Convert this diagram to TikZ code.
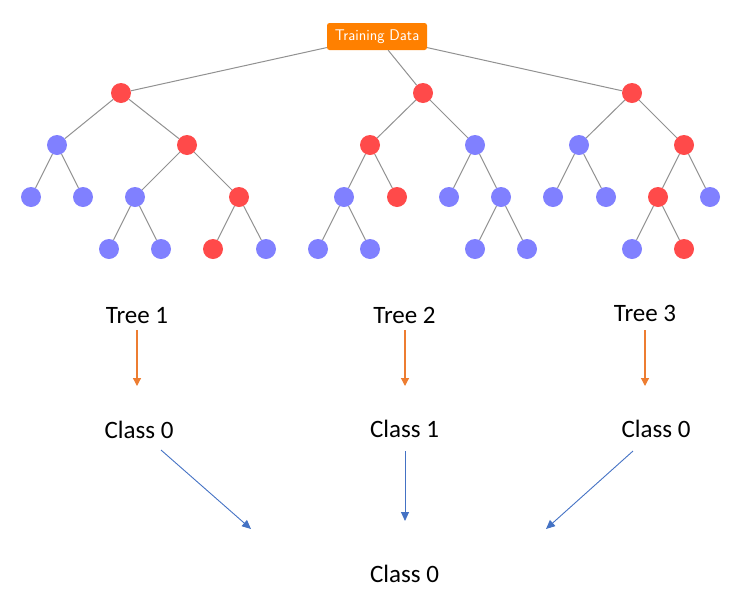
\documentclass[tikz,border=0pt]{standalone}
\usepackage{fontspec}
\newfontfamily\labelfont{Carlito}
\usetikzlibrary{arrows.meta}
\definecolor{leafred}{RGB}{255,74,74}
\definecolor{leafblue}{RGB}{128,128,255}
\definecolor{edgegray}{RGB}{145,145,145}
\definecolor{boxorange}{RGB}{255,128,0}
\definecolor{arroworange}{RGB}{237,125,49}
\definecolor{arrowblue}{RGB}{68,114,196}
\tikzset{
  rnode/.style={circle,fill=leafred,minimum size=20pt,inner sep=0pt},
  bnode/.style={circle,fill=leafblue,minimum size=20pt,inner sep=0pt},
  treeedge/.style={draw=edgegray,line width=1pt},
  databox/.style={rectangle,rounded corners=2.5pt,fill=boxorange,text=white,
    font=\sffamily\fontsize{15.5}{18}\selectfont,minimum width=100pt,minimum height=27pt,inner sep=0pt},
  lbl/.style={font=\labelfont\fontsize{25}{30}\selectfont,anchor=base,inner sep=0pt},
  votearrow/.style={draw=arroworange,line width=1.2pt,-{Triangle[length=8pt,width=8pt]}},
  classarrow/.style={draw=arrowblue,line width=0.9pt,-{Triangle[length=9pt,width=8pt]}}
}
\begin{document}
\begin{tikzpicture}[x=1pt,y=-1pt]
\useasboundingbox (0,0) rectangle (745,611);

% training data
\node[databox] (data) at (377,36.5) {Training Data};

% tree 1
\node[rnode] (a) at (121,93) {};
\node[bnode] (a1) at (57,145) {};
\node[rnode] (a2) at (187,145) {};
\node[bnode] (a11) at (31,197) {};
\node[bnode] (a12) at (83,197) {};
\node[bnode] (a21) at (135,197) {};
\node[rnode] (a22) at (239,197) {};
\node[bnode] (a211) at (109,249) {};
\node[bnode] (a212) at (161,249) {};
\node[rnode] (a221) at (213,249) {};
\node[bnode] (a222) at (266,249) {};

% tree 2
\node[rnode] (b) at (423,93) {};
\node[rnode] (b1) at (370,145) {};
\node[bnode] (b2) at (475,145) {};
\node[bnode] (b11) at (344,197) {};
\node[rnode] (b12) at (397,197) {};
\node[bnode] (b21) at (449,197) {};
\node[bnode] (b22) at (501,197) {};
\node[bnode] (b111) at (318,249) {};
\node[bnode] (b112) at (370,249) {};
\node[bnode] (b221) at (475,249) {};
\node[bnode] (b222) at (527,249) {};

% tree 3
\node[rnode] (c) at (632,93) {};
\node[bnode] (c1) at (579,145) {};
\node[rnode] (c2) at (684,145) {};
\node[bnode] (c11) at (553,197) {};
\node[bnode] (c12) at (606,197) {};
\node[rnode] (c21) at (658,197) {};
\node[bnode] (c22) at (710,197) {};
\node[bnode] (c211) at (632,249) {};
\node[rnode] (c212) at (684,249) {};

% edges between parent and child nodes
\foreach \p/\q in {data/a,data/b,data/c,
  a/a1,a/a2,a1/a11,a1/a12,a2/a21,a2/a22,a21/a211,a21/a212,a22/a221,a22/a222,
  b/b1,b/b2,b1/b11,b1/b12,b2/b21,b2/b22,b11/b111,b11/b112,b22/b221,b22/b222,
  c/c1,c/c2,c1/c11,c1/c12,c2/c21,c2/c22,c21/c211,c21/c212}
  \draw[treeedge] (\p) -- (\q);

% labels
\node[lbl] (t1) at (137,323) {Tree 1};
\node[lbl] (t2) at (404.5,323) {Tree 2};
\node[lbl] (t3) at (645,321) {Tree 3};
\node[lbl] (k1) at (139,438) {Class 0};
\node[lbl] (k2) at (404.5,437) {Class 1};
\node[lbl] (k3) at (656,437) {Class 0};
\node[lbl] (kf) at (404.5,582) {Class 0};

% arrow end points
\coordinate (v1s) at (137,330);
\coordinate (v1e) at (137,386);
\coordinate (v2s) at (405,330);
\coordinate (v2e) at (405,386);
\coordinate (v3s) at (645,330);
\coordinate (v3e) at (645,386);
\coordinate (w1s) at (161,450);
\coordinate (w1e) at (251,529);
\coordinate (w2s) at (405,451);
\coordinate (w2e) at (405,521);
\coordinate (w3s) at (633,451);
\coordinate (w3e) at (546,529);

\draw[votearrow] (v1s) -- (v1e);
\draw[votearrow] (v2s) -- (v2e);
\draw[votearrow] (v3s) -- (v3e);
\draw[classarrow] (w1s) -- (w1e);
\draw[classarrow] (w2s) -- (w2e);
\draw[classarrow] (w3s) -- (w3e);
\end{tikzpicture}
\end{document}
